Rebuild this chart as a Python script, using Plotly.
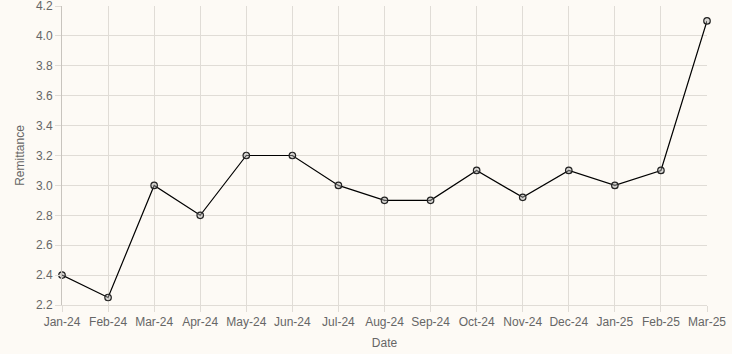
import plotly.graph_objects as go

dates = ["Jan-24", "Feb-24", "Mar-24", "Apr-24", "May-24", "Jun-24", "Jul-24", "Aug-24",
         "Sep-24", "Oct-24", "Nov-24", "Dec-24", "Jan-25", "Feb-25", "Mar-25"]
remittance = [2.4, 2.25, 3.0, 2.8, 3.2, 3.2, 3.0, 2.9, 2.9, 3.1, 2.92, 3.1, 3.0, 3.1, 4.1]
y_ticks = [2.2, 2.4, 2.6, 2.8, 3.0, 3.2, 3.4, 3.6, 3.8, 4.0, 4.2]

bg = "#fdfaf5"
grid = "#e0dcd6"
fig = go.Figure(go.Scatter(
    x=list(range(len(dates))), y=remittance, mode="lines+markers",
    line=dict(color="black", width=1.2), cliponaxis=False,
    marker=dict(symbol="circle", size=6.5, color="rgba(175,175,175,0.45)",
                line=dict(color="#222", width=1.2)),
))
fig.update_layout(
    width=732, height=354, paper_bgcolor=bg, plot_bgcolor=bg,
    margin=dict(l=62, r=25, t=6, b=49, autoexpand=False),
    font=dict(family="Liberation Sans, Arial", size=12, color="#666"),
    showlegend=False,
)
fig.update_xaxes(
    tickmode="array", tickvals=list(range(len(dates))), ticktext=dates,
    range=[0, len(dates) - 1], showgrid=True, gridcolor=grid, gridwidth=1,
    ticks="outside", ticklen=6, tickcolor=grid, zeroline=False,
    showline=True, linecolor=grid, linewidth=1, ticklabeloverflow="allow",
    automargin=False, tickfont=dict(color="#666"),
    title=dict(text="Date", standoff=10, font=dict(size=12, color="#666")),
)
fig.update_yaxes(
    range=[2.2, 4.2], tickmode="array", tickvals=y_ticks,
    ticktext=[f"{v:.1f}" for v in y_ticks], showgrid=True, gridcolor=grid,
    ticks="outside", ticklen=6, tickcolor=grid, zeroline=False,
    showline=True, linecolor="#c8c4be", linewidth=1, ticklabeloverflow="allow",
    automargin=False, tickfont=dict(color="#666"),
    title=dict(text="Remittance", standoff=8, font=dict(size=12, color="#666")),
)
fig.write_html("out.html")
